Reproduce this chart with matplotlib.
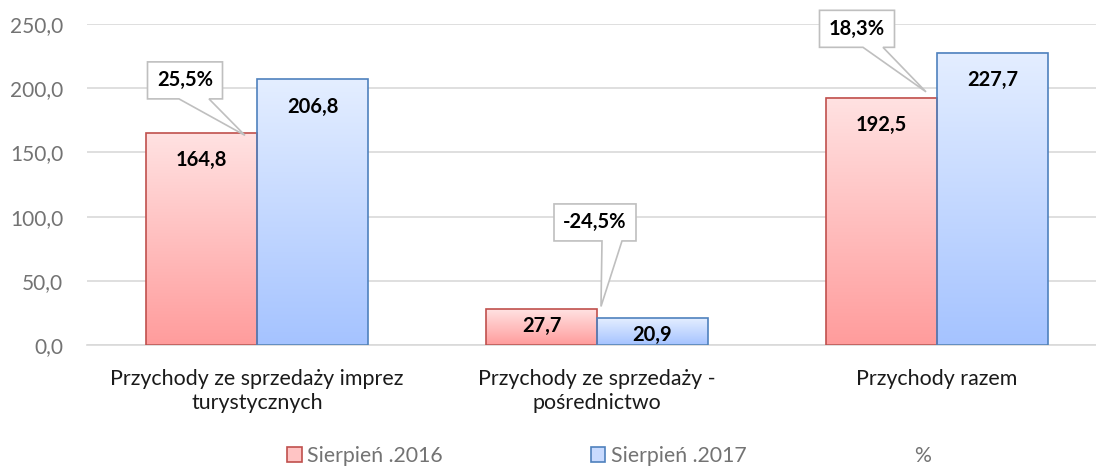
import numpy as np
import matplotlib
matplotlib.use('Agg')
import matplotlib.pyplot as plt
from matplotlib import transforms as mtransforms
from matplotlib.patches import Polygon, Patch
from matplotlib.colors import LinearSegmentedColormap

plt.rcParams['font.family'] = ['Lato', 'DejaVu Sans']

# dane
categories = ['Przychody ze sprzedaży imprez\nturystycznych',
              'Przychody ze sprzedaży -\npośrednictwo',
              'Przychody razem']
aug_2016 = [164.8, 27.7, 192.5]
aug_2017 = [206.8, 20.9, 227.7]
change_pct = [25.5, -24.5, 18.3]
series_names = ['Sierpień .2016', 'Sierpień .2017', '%']
y_ticks = [0, 50, 100, 150, 200, 250]

W, H = 1096, 466
fig = plt.figure(figsize=(W / 100, H / 100), dpi=100)
ax = fig.add_axes([87 / W, 121 / H, 1020 / W, 321 / H])

x = np.arange(len(categories))
bw = 111 / 340

red_cmap = LinearSegmentedColormap.from_list('r', ['#ff9c9c', '#ffe2e2'])
blue_cmap = LinearSegmentedColormap.from_list('b', ['#a5c3ff', '#e4eeff'])
grad = np.linspace(0, 1, 256).reshape(-1, 1)

def gradient_bars(xs, vals, cmap, edge):
    bars = ax.bar(xs, vals, width=bw, align='edge', facecolor='none',
                  edgecolor=edge, linewidth=1.2, zorder=3)
    for b in bars:
        x0, y0 = b.get_x(), b.get_y()
        ax.imshow(grad, cmap=cmap, origin='lower', aspect='auto',
                  extent=(x0, x0 + b.get_width(), y0, y0 + b.get_height()),
                  zorder=2)
    return bars

gradient_bars(x - bw, aug_2016, red_cmap, '#c0504d')
gradient_bars(x, aug_2017, blue_cmap, '#4f81bd')

ax.set_xlim(-0.5, 2.5)
ax.set_ylim(0, 250)
ax.set_yticks(y_ticks)
ax.set_yticklabels([f'{v:.1f}'.replace('.', ',') for v in y_ticks])
ax.set_xticks(x)
ax.set_xticklabels(categories, fontsize=15.4, color='#1a1a1a', linespacing=1.28)
ax.tick_params(axis='y', length=0, pad=17, labelsize=15, labelcolor='#737373')
ax.tick_params(axis='x', length=0, pad=17)
ax.grid(axis='y', color='#d9d9d9', linewidth=1.2, zorder=0)
ax.set_axisbelow(True)
for s in ['left', 'right', 'top']:
    ax.spines[s].set_visible(False)
ax.spines['bottom'].set_color('#d9d9d9')
ax.spines['bottom'].set_linewidth(1.2)

# etykiety wartości
for xs, vals in [(x - bw / 2, aug_2016), (x + bw / 2, aug_2017)]:
    for xi, v in zip(xs, vals):
        off = 27 if v > 50 else 17
        ax.annotate(f'{v:.1f}'.replace('.', ','), (xi, v), xytext=(0, -off),
                    textcoords='offset pixels', ha='center', va='center',
                    fontsize=14.5, fontweight='bold', color='black', zorder=5)

# dymki z procentową zmianą (przesunięcia w pikselach względem narożnika czerwonego słupka)
callouts = [  # box center dx, dy, box width, tip dx, dy, base from, to
    (-72, 53, 75, -12, -2, -6, 24),
    (-2, 87, 82, 4, 3, 7, 27),
    (-80, 69, 75, -11, 6, 6, 26),
]
ident = mtransforms.IdentityTransform()
bh = 37
for xi, v, p, (cx, cy, bwid, tx, ty, b0, b1) in zip(x, aug_2016, change_pct, callouts):
    px, py = ax.transData.transform((xi, v))
    bx, by = px + cx, py + cy
    l, r = bx - bwid / 2, bx + bwid / 2
    t, b = by + bh / 2, by - bh / 2
    pts = [(l, t), (r, t), (r, b), (bx + b1, b), (px + tx, py + ty),
           (bx + b0, b), (l, b)]
    fig.add_artist(Polygon(pts, closed=True, facecolor='white', edgecolor='#bfbfbf',
                           linewidth=1.2, transform=ident, zorder=6))
    fig.text(bx, by, f'{p:.1f}%'.replace('.', ','), transform=ident, ha='center',
             va='center', fontsize=14.5, fontweight='bold', color='black', zorder=7)

handles = [Patch(facecolor='#ffc4c4', edgecolor='#c0504d', linewidth=1.2),
           Patch(facecolor='#c8dafe', edgecolor='#4f81bd', linewidth=1.2),
           Patch(facecolor='none', edgecolor='none')]
fig.legend(handles, series_names, loc='center left', bbox_to_anchor=(287 / W, 1 - 456 / H),
           ncol=3, frameon=False, fontsize=15.3, labelcolor='#737373', borderpad=0,
           borderaxespad=0, handlelength=0.7, handleheight=0.7, handletextpad=0.25,
           columnspacing=6.95)

fig.savefig('out.png', dpi=100)
